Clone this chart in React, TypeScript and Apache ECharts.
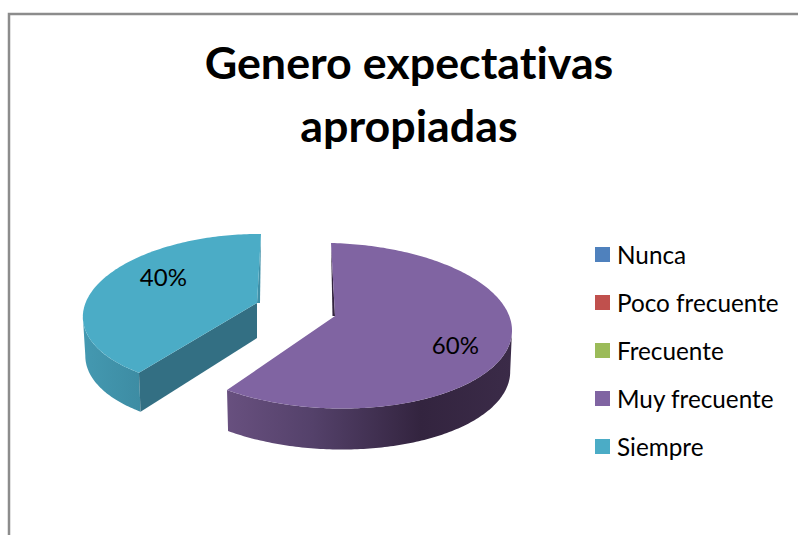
import React, { useEffect, useRef } from "react";
import * as echarts from "echarts";

const TITLE = "Genero expectativas\napropiadas";
const categories = ["Nunca", "Poco frecuente", "Frecuente", "Muy frecuente", "Siempre"];
const values = [0, 0, 0, 60, 40];
const colors = ["#4f81bd", "#c0504d", "#9bbb59", "#8064a2", "#4bacc6"];

type Frame = {
  c: number[]; u: number[]; v: number[]; apex: number[]; depth: number; shrink: number;
  labelShift: number; labelR: number; wallStops: [number, string][]; sliver: number[];
  inner?: string; innerDepth?: number; sliverColor: string;
};

// Projection of each exploded slice: centre, and the axes of its tilted ellipse.
const frames: Record<string, Frame> = {
  "Muy frecuente": {
    c: [332, 325.7], u: [180, 4.3], v: [-1, -82.7], apex: [335, 316], depth: 41, shrink: 0.99,
    labelShift: -2.5, labelR: 0.71,
    wallStops: [[0, "#68507f"], [0.3, "#54416a"], [0.68, "#33243f"], [1, "#3b2b48"]],
    sliver: [-2.5, 0], sliverColor: "#33243f",
  },
  Siempre: {
    c: [246.5, 311], u: [163, 1], v: [14.5, -77], apex: [257, 303], depth: 39, shrink: 0.985,
    labelShift: 21, labelR: 0.707,
    wallStops: [[0, "#4499b1"], [1, "#3d8ca3"]],
    sliver: [3, 0], sliverColor: "#3f8fa7",
    inner: "#336f83", innerDepth: 35,
  },
};

const total = values.reduce((a, b) => a + b, 0);
const starts = values.map((_, i) => values.slice(0, i).reduce((a, b) => a + b, 0));

const rad = (d: number) => (d * Math.PI) / 180;

function pt(f: Frame, deg: number, scale = 1, dy = 0, xScale = 1) {
  const s = Math.sin(rad(deg)), c = Math.cos(rad(deg));
  return [
    f.c[0] + xScale * scale * (f.u[0] * s + f.v[0] * c),
    f.c[1] + dy + scale * (f.u[1] * s + f.v[1] * c),
  ];
}

function arc(f: Frame, a: number, b: number, dy = 0, xScale = 1) {
  const n = Math.max(2, Math.ceil(Math.abs(b - a)));
  const out: number[][] = [];
  for (let i = 0; i <= n; i++) out.push(pt(f, a + ((b - a) * i) / n, 1, dy, xScale));
  return out;
}

function renderSlice(index: number) {
  const value = values[index];
  const f = frames[categories[index]];
  if (!value || !f) return null;
  const a0 = (starts[index] / total) * 360;
  const a1 = ((starts[index] + value) / total) * 360;
  const children: any[] = [];

  const ext = (Math.atan2(f.u[0], f.v[0]) * 180) / Math.PI;
  const wFrom = Math.max(a0, ext);
  const wTo = Math.min(a1, ext + 180);
  if (wTo > wFrom) {
    const top = arc(f, wFrom, wTo);
    const bottom = arc(f, wFrom, wTo, f.depth, f.shrink).reverse();
    children.push({
      type: "polygon",
      shape: { points: [...top, ...bottom] },
      style: {
        fill: new echarts.graphic.LinearGradient(
          0, 0, 1, 0,
          f.wallStops.map(([offset, color]) => ({ offset, color })),
        ),
      },
    });
  }

  if (f.inner) {
    const tip = pt(f, a0);
    const tipB = pt(f, a0, 1, f.depth, f.shrink);
    const apexB = [f.apex[0], f.apex[1] + (f.innerDepth as number)];
    children.push({ type: "polygon", shape: { points: [f.apex, tip, tipB, apexB] }, style: { fill: f.inner } });
  }

  const edgeAngle = f.inner ? a1 : a0;
  children.push({
    type: "polygon",
    shape: { points: [pt(f, edgeAngle), f.apex, [f.apex[0] + f.sliver[0], f.apex[1] + f.sliver[1]]] },
    style: { fill: f.sliverColor },
  });

  children.push({
    type: "polygon",
    shape: { points: [f.apex, ...arc(f, a0, a1)] },
    style: { fill: colors[index] },
  });

  const mid = (a0 + a1) / 2 + f.labelShift;
  const lp = pt(f, mid, f.labelR);
  children.push({
    type: "text",
    x: lp[0],
    y: lp[1],
    style: {
      text: `${Math.round((value / total) * 100)}%`,
      fill: "#000000",
      font: "24px Lato",
      align: "center",
      verticalAlign: "middle",
    },
  });
  return { type: "group", children };
}

export default function App() {
  const ref = useRef<HTMLDivElement>(null);
  useEffect(() => {
    const chart = echarts.init(ref.current as HTMLDivElement, undefined, { renderer: "svg" });
    chart.setOption({
      animation: false,
      backgroundColor: "#ffffff",
      title: {
        text: TITLE,
        left: 404,
        top: 25,
        textAlign: "center",
        textStyle: { fontFamily: "Lato", fontWeight: "bold", fontSize: 44.8, lineHeight: 63, color: "#000000" },
      },
      legend: {
        orient: "vertical",
        left: 595,
        top: 242.5,
        padding: 0,
        icon: "rect",
        itemWidth: 15,
        itemHeight: 15,
        itemGap: 24,
        selectedMode: false,
        data: categories,
        textStyle: { fontFamily: "Lato", fontSize: 24.3, color: "#000000", padding: [0, 0, 0, 2] },
      },
      graphic: [
        {
          type: "polyline",
          shape: { points: [[9, 535], [9, 14], [798, 14]] },
          style: { stroke: "#8c8c8c", lineWidth: 2.5, fill: "none" },
          silent: true,
        },
      ],
      series: categories.map((name, i) => ({
        type: "custom",
        name,
        coordinateSystem: "none",
        silent: true,
        color: colors[i],
        itemStyle: { color: colors[i] },
        data: [values[i]],
        renderItem: () => renderSlice(i),
      })),
    });
    return () => chart.dispose();
  }, []);
  return (
    <div
      ref={ref}
      style={{ position: "absolute", left: 0, top: 0, width: 798, height: 535, fontVariantLigatures: "none" }}
    />
  );
}
